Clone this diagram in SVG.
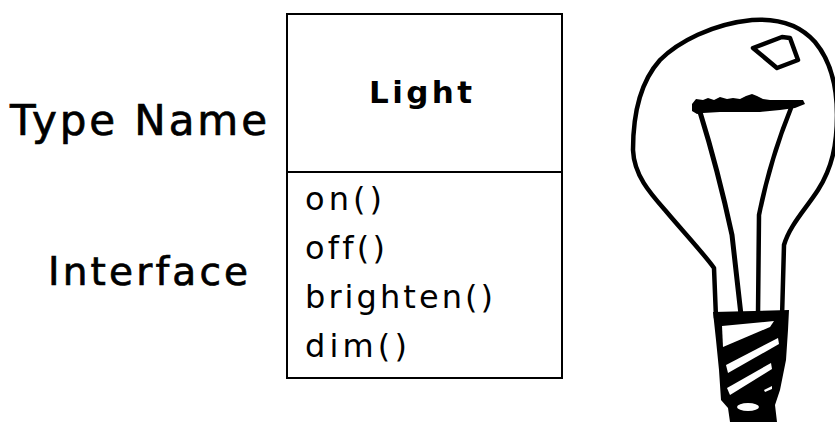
<svg xmlns="http://www.w3.org/2000/svg" width="835" height="422" viewBox="0 0 835 422">
<style>
.lbl{font-family:"DejaVu Sans",Verdana,sans-serif;fill:#000;font-variant-ligatures:none;font-feature-settings:"liga" 0}
.big{stroke:#000;stroke-width:0.7}
.ink{fill:none;stroke:#000;stroke-linejoin:round;stroke-linecap:round}
</style>
<rect width="835" height="422" fill="#fff"/>
<g id="labels">
<text class="lbl big" x="10" y="135" font-size="42" textLength="257" lengthAdjust="spacing">Type Name</text>
<text class="lbl big" x="48" y="285" font-size="39" textLength="200" lengthAdjust="spacing">Interface</text>
</g>
<g id="light-class">
<rect x="287" y="14" width="275" height="364" fill="#fff" stroke="#000" stroke-width="2"/>
<line x1="287" y1="172" x2="562" y2="172" stroke="#000" stroke-width="2"/>
<text class="lbl" x="369" y="103" font-size="31" font-weight="bold" textLength="103" lengthAdjust="spacing">Light</text>
<text class="lbl" x="305" y="210" font-size="32" textLength="77" lengthAdjust="spacing">on()</text>
<text class="lbl" x="305" y="259" font-size="32" textLength="80" lengthAdjust="spacing">off()</text>
<text class="lbl" x="305" y="308" font-size="32" textLength="188" lengthAdjust="spacing">brighten()</text>
<text class="lbl" x="305" y="357" font-size="32" textLength="102" lengthAdjust="spacing">dim()</text>
</g>
<g id="connectors"></g>
<g id="bulb">
<path class="ink" stroke-width="4.5" d="M716,318 L714,268 C705,255 680,228 665,210 C650,193 634,175 633,150 C633,110 642,80 660,60 C678,42 712,24 752,20 C780,18 800,25 815,42 C830,60 837,85 837,115 C837,145 832,168 818,190 C805,210 790,225 784,245 L782,318"/>
<polygon class="ink" stroke-width="4.5" fill="#fff" points="753,48 782,37 790,38 798,60 777,68"/>
<polygon fill="#000" points="692,104 696,99 703,100 708,98 714,100 720,97 727,99 733,98 740,99 746,96 752,94 757,96 763,99 770,100 780,100 790,100 803,100 805,104 795,108 780,110 760,112 740,112 720,112 703,113 697,114 692,111"/>
<path class="ink" stroke-width="5" d="M700,112 Q718,170 732,235 L741,315"/>
<path class="ink" stroke-width="4.5" d="M791,108 Q770,160 759,215 L758,315"/>
<polygon fill="#000" points="713,312 789,310 788,330 786,360 780,390 775,405 777,422 730,422 728,408 721,400 719,370 716,340"/>
<polygon fill="#fff" points="722,326 774,321 770,327 723,347"/>
<polygon fill="#fff" points="726,365 778,338 779,344 728,373"/>
<polygon fill="#fff" points="727,388 771,363 772,369 730,395"/>
<polygon fill="#fff" points="764,390 772,386 772,389 765,392"/>
<ellipse cx="748" cy="407" rx="11" ry="4" fill="#fff"/>
</g>
</svg>
